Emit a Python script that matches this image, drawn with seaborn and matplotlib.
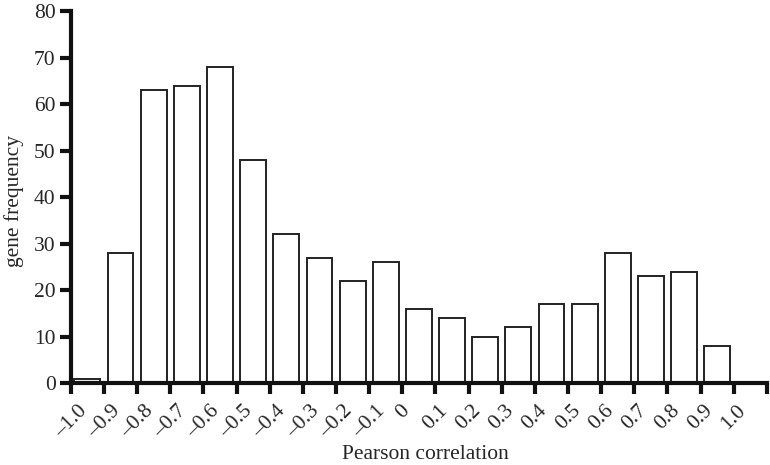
import numpy as np
import matplotlib
matplotlib.use("Agg")
import matplotlib.pyplot as plt
import matplotlib.transforms as mtransforms
import seaborn as sns
import pandas as pd

bin_edges = [round(-1.0 + 0.1 * i, 1) for i in range(21)]
counts = [1, 28, 63, 64, 68, 48, 32, 27, 22, 26, 16, 14, 10, 12, 17, 17, 28, 23, 24, 8]
tick_values = [round(-1.0 + 0.1 * i, 1) for i in range(22)]
tick_labels = ["\u20131.0", "\u20130.9", "\u20130.8", "\u20130.7", "\u20130.6", "\u20130.5",
               "\u20130.4", "\u20130.3", "\u20130.2", "\u20130.1", "0", "0.1", "0.2", "0.3",
               "0.4", "0.5", "0.6", "0.7", "0.8", "0.9", "1.0", ""]
y_ticks = [0, 10, 20, 30, 40, 50, 60, 70, 80]

sns.set_style("ticks")
plt.rcParams['font.family'] = ['Liberation Serif', 'DejaVu Serif']
FS = 15.5

centers = [(bin_edges[i] + bin_edges[i + 1]) / 2 for i in range(20)]
df = pd.DataFrame({"r": centers, "n": counts})

fig = plt.figure(figsize=(7.7, 4.65), dpi=100)
ax = fig.add_axes([0.092, 0.176, 0.904, 0.8])
sns.histplot(data=df, x="r", weights="n", bins=bin_edges, shrink=0.78,
             color="white", edgecolor="#222222", linewidth=1.4, alpha=1, ax=ax)

ax.set_xlim(-1.0, 1.1)
ax.set_ylim(0, 80)
ax.set_xticks(tick_values)
ax.set_xticklabels(tick_labels, rotation=45, ha="center", va="top", fontsize=FS)
offset = mtransforms.ScaledTranslation(-4 / 100, 0, fig.dpi_scale_trans)
for lab in ax.get_xticklabels():
    lab.set_transform(lab.get_transform() + offset)
ax.set_yticks(y_ticks)
ax.set_yticklabels([str(v) for v in y_ticks], fontsize=FS)
ax.tick_params(axis="both", direction="out", length=8, width=3, color="#111111", pad=3)
ax.tick_params(axis="x", pad=5)
for s in ["top", "right"]:
    ax.spines[s].set_visible(False)
for s in ["left", "bottom"]:
    ax.spines[s].set_linewidth(3)
    ax.spines[s].set_color("#111111")
ax.set_xlabel("Pearson correlation", fontsize=FS)
ax.set_ylabel("gene frequency", fontsize=FS)
ax.xaxis.set_label_coords(0.509, -0.165)
ax.yaxis.set_label_coords(-0.068, 0.49)

fig.savefig("out.png", dpi=100)
